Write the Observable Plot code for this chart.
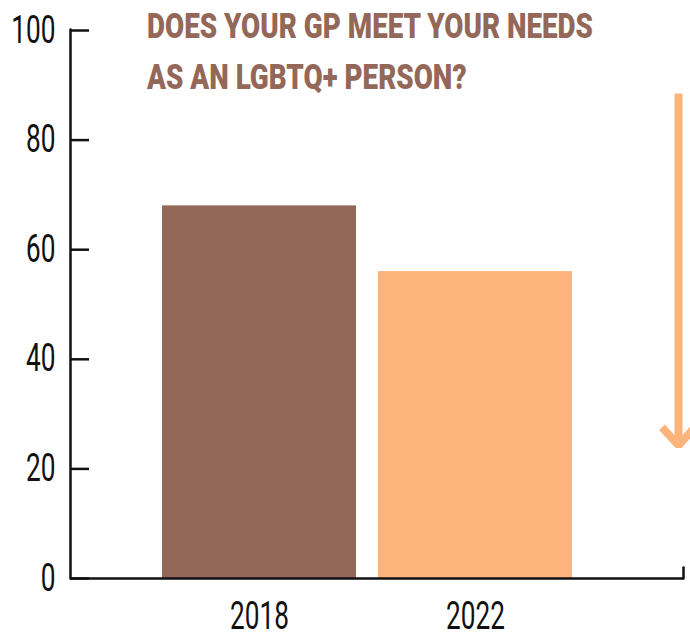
<!DOCTYPE html>
<html>
<head>
<meta charset="utf-8">
<script src="https://cdn.jsdelivr.net/npm/d3@7"></script>
<script src="https://cdn.jsdelivr.net/npm/@observablehq/plot@0.6"></script>
<style>
  html, body { margin: 0; padding: 0; background: #fff; }
  #wrap { position: relative; width: 690px; height: 637px; }
  #title {
    position: absolute; left: 147px; top: 0.5px;
    font-family: Roboto, "Noto Sans", sans-serif;
    font-weight: 900; font-size: 35px; line-height: 51px;
    color: #946858; white-space: nowrap; transform-origin: 0 0;
  }
  #title span { display: block; }
</style>
</head>
<body>
<div id="wrap">
  <div id="chart"></div>
  <div id="title"><span id="t1">DOES YOUR GP MEET YOUR NEEDS</span><span>AS AN LGBTQ+ PERSON?</span></div>
</div>
<script>
const years = ["2018", "2022"];
const values = [68, 56];
const barColors = ["#946858", "#FCB47C"];
const yTicks = [0, 20, 40, 60, 80, 100];
const arrowFrom = [88.5];
const arrowTo = [24.3];

const data = years.map((y, i) => ({year: y, value: values[i], color: barColors[i]}));
const font = 'Roboto, "Noto Sans", sans-serif';
const ink = "#111";

const lineShape = {draw(context, l) { context.moveTo(0, 0); context.lineTo(0, -l); }};

const chart = Plot.plot({
  width: 690,
  height: 637,
  marginLeft: 70,
  marginRight: 7,
  marginTop: 30,
  marginBottom: 59,
  style: {fontFamily: font, fontSize: "38px", color: ink, background: "white"},
  x: {domain: years, range: [140.4, 594], padding: 0.1, label: null},
  y: {domain: [0, 100], label: null},
  marks: [
    Plot.barY(data, {x: "year", y: "value", fill: "color"}),
    Plot.axisY(yTicks, {tickSize: 0, tickPadding: 15, fontSize: 38, label: null}),
    Plot.axisY(yTicks, {tickSize: 19, dx: 19, text: null, strokeWidth: 2.5, stroke: ink, label: null}),
    Plot.vector([0], {frameAnchor: "bottom-left", length: 549, anchor: "start", shape: lineShape, stroke: ink, strokeWidth: 2.5}),
    Plot.ruleY([0], {stroke: ink, strokeWidth: 2.5}),
    Plot.vector([0], {frameAnchor: "bottom-right", length: 11, anchor: "start", shape: lineShape, stroke: ink, strokeWidth: 2.5}),
    Plot.axisX({tickSize: 0, tickPadding: 24, fontSize: 38, label: null}),
    Plot.arrow([0], {
      x1: () => "2022", x2: () => "2022",
      y1: () => arrowFrom[0], y2: () => arrowTo[0],
      dx: 203,
      stroke: "#FCB47C", strokeWidth: 8,
      headLength: 4.6, headAngle: 85,
      strokeLinejoin: "miter", strokeLinecap: "butt"
    })
  ]
});
document.getElementById("chart").appendChild(chart);

// condense tick label glyphs (the reference uses a narrow typeface)
chart.querySelectorAll('g[aria-label$="tick label"] text').forEach(t => {
  const tr = t.getAttribute("transform") || "";
  t.setAttribute("transform", tr + " scale(0.69,1)");
});

// condense title to the reference's width
const title = document.getElementById("title");
const w = document.getElementById("t1").getBoundingClientRect().width;
title.style.transform = `scaleX(${446 / w})`;
</script>
</body>
</html>
